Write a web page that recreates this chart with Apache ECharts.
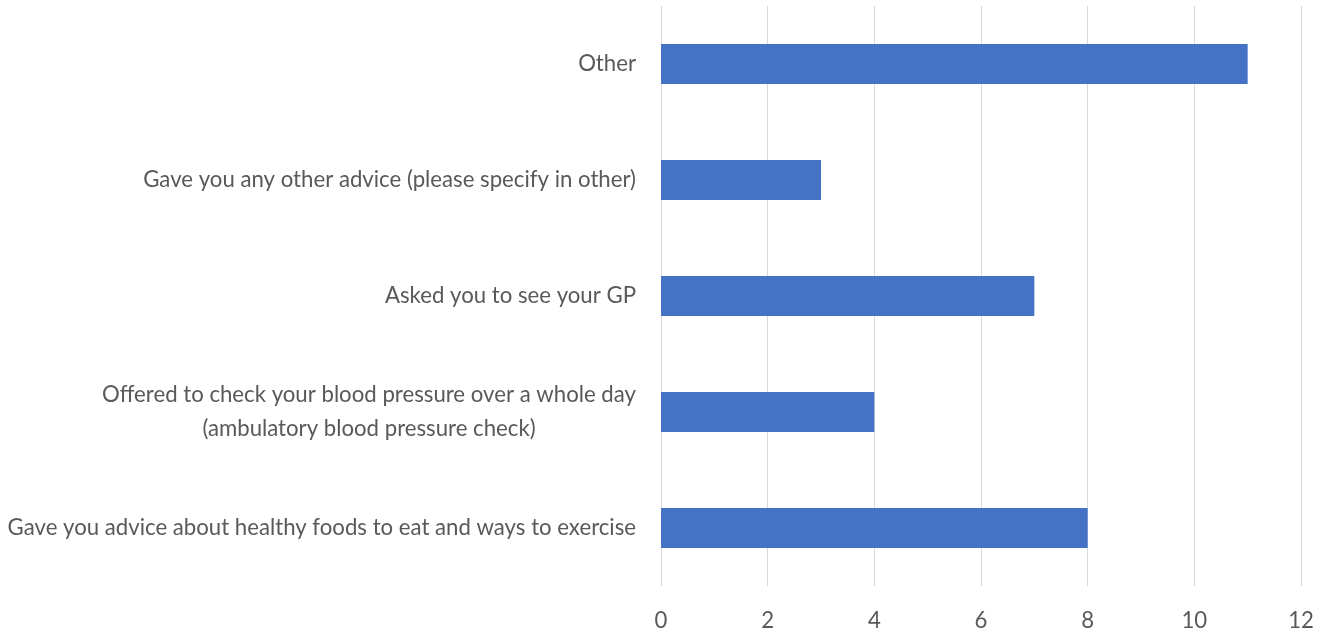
<!DOCTYPE html>
<html>
<head>
<meta charset="utf-8">
<script src="https://cdn.jsdelivr.net/npm/echarts@6/dist/echarts.min.js"></script>
<style>
html,body{margin:0;padding:0;background:#fff;}
#chart{width:1323px;height:632px;}
</style>
</head>
<body>
<div id="chart"></div>
<script>
var categories = [
  "Gave you advice about healthy foods to eat and ways to exercise",
  "Offered to check your blood pressure over a whole day\n(ambulatory blood pressure check)",
  "Asked you to see your GP",
  "Gave you any other advice (please specify in other)",
  "Other"
];
var values = [8, 4, 7, 3, 11];
var xTicks = [0, 2, 4, 6, 8, 10, 12];

var FONT = "Lato";
var FS = 22.2;
var ctx = document.createElement('canvas').getContext('2d');
ctx.font = FS + 'px ' + FONT;
function w(t){ return Math.ceil(ctx.measureText(t).width); }

var chart = echarts.init(document.getElementById('chart'));
chart.setOption({
  animation: false,
  grid: {left: 661, right: 22, top: 6, bottom: 46, containLabel: false},
  xAxis: {
    type: 'value', min: xTicks[0], max: xTicks[xTicks.length-1], interval: 2,
    axisLine: {show: false}, axisTick: {show: false},
    splitLine: {show: true, lineStyle: {color: '#d9d9d9', width: 1}},
    axisLabel: {color: '#595959', fontSize: FS, fontFamily: FONT, margin: 24}
  },
  yAxis: {
    type: 'category', data: categories,
    axisLine: {show: false}, axisTick: {show: false},
    axisLabel: {
      color: '#595959', fontSize: FS, fontFamily: FONT, margin: 25,
      formatter: function(v){
        var lines = v.split('\n');
        if (lines.length < 2) return v;
        return lines.map(function(l){ return '{c|' + l + '}'; }).join('\n');
      },
      rich: {c: {width: w("Offered to check your blood pressure over a whole day"), align: 'center', color: '#595959', fontSize: FS, fontFamily: FONT, lineHeight: 34}}
    }
  },
  series: [{
    type: 'bar', data: values, barWidth: 40,
    itemStyle: {color: '#4472C4'}
  }]
});
</script>
</body>
</html>
